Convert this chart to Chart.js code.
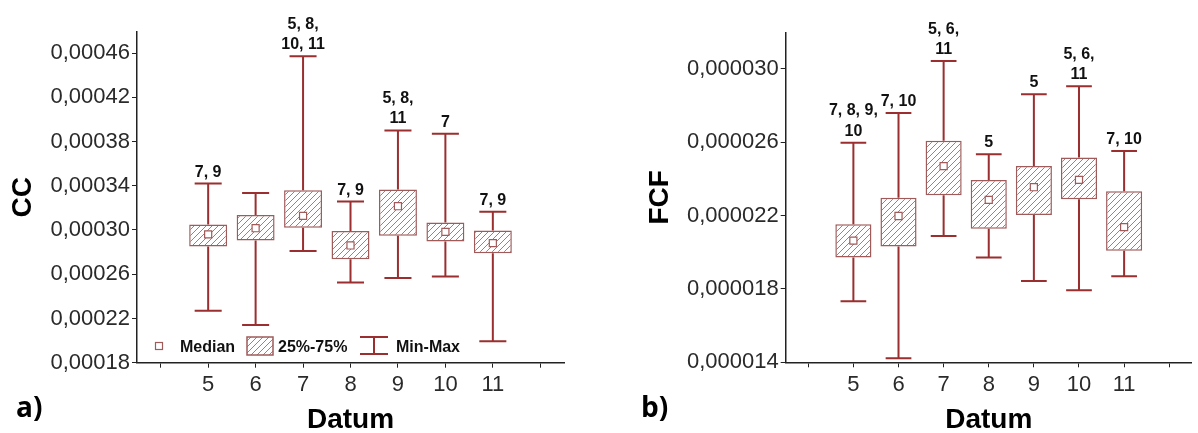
<!DOCTYPE html>
<html><head><meta charset="utf-8">
<script src="https://cdn.jsdelivr.net/npm/chart.js@4.4.1/dist/chart.umd.min.js"></script>
<style>
html,body{margin:0;padding:0;background:#fff;}
#wrap{position:relative;width:1198px;height:433px;overflow:hidden;background:#fff}
#c1{position:absolute;left:0;top:0}
#c2{position:absolute;left:600px;top:0}
</style></head><body>
<div id="wrap"><canvas id="c1" width="600" height="433"></canvas><canvas id="c2" width="598" height="433"></canvas></div>
<script>
// ---------- DATA ----------
const categories = ['5','6','7','8','9','10','11'];
const xTicks = [4,5,6,7,8,9,10,11,12];

// a) CC
const ccMin    = [0.000227, 0.000214, 0.000281, 0.0002525, 0.0002565, 0.000258, 0.0001995];
const ccQ1     = [0.000285, 0.0002905, 0.000302, 0.0002735, 0.0002947, 0.0002896, 0.000279];
const ccMedian = [0.000296, 0.0003016, 0.0003127, 0.000286, 0.0003215, 0.0002983, 0.0002881];
const ccQ3     = [0.000305, 0.0003136, 0.000336, 0.000299, 0.0003366, 0.0003068, 0.0002995];
const ccMax    = [0.000342, 0.0003335, 0.000457, 0.0003257, 0.00039, 0.000387, 0.0003164];
const ccSig    = [['7, 9'], [], ['5, 8,', '10, 11'], ['7, 9'], ['5, 8,', '11'], ['7'], ['7, 9']];
const ccTicks  = [0.00018, 0.00022, 0.00026, 0.00030, 0.00034, 0.00038, 0.00042, 0.00046];

// b) FCF
const fcfMin    = [0.00001733, 0.00001422, 0.00002089, 0.00001971, 0.00001844, 0.00001793, 0.00001869];
const fcfQ1     = [0.00001971, 0.00002031, 0.00002311, 0.00002129, 0.00002204, 0.0000229, 0.00002009];
const fcfMedian = [0.00002064, 0.00002198, 0.0000247, 0.00002286, 0.00002355, 0.00002395, 0.00002137];
const fcfQ3     = [0.00002153, 0.00002298, 0.00002608, 0.00002395, 0.00002471, 0.00002517, 0.00002333];
const fcfMax    = [0.00002597, 0.0000276, 0.00003043, 0.00002535, 0.00002862, 0.00002906, 0.00002553];
const fcfSig    = [['7, 8, 9,', '10'], ['7, 10'], ['5, 6,', '11'], ['5'], ['5'], ['5, 6,', '11'], ['7, 10']];
const fcfTicks  = [0.000014, 0.000018, 0.000022, 0.000026, 0.000030];

// ---------- STYLE ----------
const WHISKER = '#9b2f2f';
const BOXLINE = '#a05a5a';
const HATCH = '#b07878';
const TEXT = '#2a2a2a';
const FONT = '"Liberation Sans", Arial, sans-serif';

function hatchPattern(ctx) {
  const t = document.createElement('canvas');
  t.width = 6; t.height = 6;
  const c = t.getContext('2d');
  c.fillStyle = '#fff'; c.fillRect(0, 0, 6, 6);
  c.strokeStyle = HATCH; c.lineWidth = 1;
  c.beginPath();
  c.moveTo(0, 6); c.lineTo(6, 0);
  c.moveTo(-3, 3); c.lineTo(3, -3);
  c.moveTo(3, 9); c.lineTo(9, 3);
  c.stroke();
  return ctx.createPattern(t, 'repeat');
}

function makeChart(canvas, o) {
  const ctx = canvas.getContext('2d');
  const pattern = hatchPattern(ctx);
  const xs = categories.map(Number);

  const boxPlugin = {
    id: 'box' + o.id,
    afterDatasetsDraw(chart) {
      const c = chart.ctx, xS = chart.scales.x, yS = chart.scales.y;
      const unit = xS.getPixelForValue(1) - xS.getPixelForValue(0);
      const half = unit * 0.285;
      c.save();
      c.strokeStyle = WHISKER; c.lineWidth = 2;
      xs.forEach((xv, i) => {
        const x = xS.getPixelForValue(xv);
        const yMin = yS.getPixelForValue(o.min[i]), yMax = yS.getPixelForValue(o.max[i]);
        const yQ1 = yS.getPixelForValue(o.q1[i]), yQ3 = yS.getPixelForValue(o.q3[i]);
        c.beginPath();
        c.moveTo(x, yQ3); c.lineTo(x, yMax);
        c.moveTo(x, yQ1); c.lineTo(x, yMin);
        c.moveTo(x - half, yMax); c.lineTo(x + half, yMax);
        c.moveTo(x - half, yMin); c.lineTo(x + half, yMin);
        c.stroke();
      });
      c.fillStyle = '#111';
      c.font = 'bold 16px ' + FONT;
      c.textAlign = 'center'; c.textBaseline = 'alphabetic';
      xs.forEach((xv, i) => {
        const x = xS.getPixelForValue(xv);
        const yMax = yS.getPixelForValue(o.max[i]);
        const lines = o.sig[i];
        for (let k = lines.length - 1, j = 0; k >= 0; k--, j++) {
          c.fillText(lines[k], x, yMax - 7 - j * 20.5);
        }
      });
      c.restore();
    },
    afterDraw(chart) {
      const c = chart.ctx;
      c.save();
      c.fillStyle = '#000';
      c.font = 'bold 28px "Open Sans", sans-serif';
      c.textAlign = 'left'; c.textBaseline = 'alphabetic';
      c.fillText(o.panel, o.panelX, 417);
      if (o.legend) {
        const ly = 351.5;
        c.fillStyle = '#fff'; c.strokeStyle = BOXLINE; c.lineWidth = 1.2;
        c.fillRect(155.5, 342.5, 7, 7); c.strokeRect(155.5, 342.5, 7, 7);
        c.fillStyle = '#111'; c.font = 'bold 16px ' + FONT;
        c.fillText('Median', 180, ly);
        c.fillStyle = pattern; c.fillRect(247, 337, 26, 18);
        c.strokeStyle = BOXLINE; c.lineWidth = 1.5; c.strokeRect(247, 337, 26, 18);
        c.fillStyle = '#111';
        c.fillText('25%-75%', 278, ly);
        c.strokeStyle = WHISKER; c.lineWidth = 2;
        c.beginPath();
        c.moveTo(374, 337); c.lineTo(374, 354);
        c.moveTo(360, 337); c.lineTo(388, 337);
        c.moveTo(360, 354); c.lineTo(388, 354);
        c.stroke();
        c.fillText('Min-Max', 396, ly);
      }
      c.restore();
    }
  };

  return new Chart(canvas, {
    type: 'bar',
    data: {
      datasets: [
        {
          type: 'scatter',
          label: 'Median',
          data: xs.map((x, i) => ({ x, y: o.median[i] })),
          pointStyle: 'rect', pointRadius: 5, pointHoverRadius: 5,
          backgroundColor: '#fff', borderColor: BOXLINE, borderWidth: 1.2,
          order: 0
        },
        {
          type: 'bar',
          label: '25%-75%',
          data: xs.map((x, i) => ({ x, y: [o.q1[i], o.q3[i]] })),
          backgroundColor: pattern, borderColor: BOXLINE, borderWidth: 1.5,
          borderSkipped: false,
          categoryPercentage: 1, barPercentage: 0.8,
          order: 1
        }
      ]
    },
    options: {
      responsive: false, animation: false, devicePixelRatio: 1,
      layout: { padding: { left: 0, top: o.top, right: o.right, bottom: 0 } },
      plugins: { legend: { display: false }, tooltip: { enabled: false } },
      scales: {
        x: {
          type: 'linear', min: 3.5, max: 12.5, offset: false,
          afterBuildTicks: s => { s.ticks = xTicks.map(v => ({ value: v })); },
          afterFit: s => { s.height = o.xH; },
          ticks: {
            autoSkip: false, maxRotation: 0, padding: 4, color: TEXT,
            font: { family: FONT, size: 22 },
            callback: v => categories.includes(String(v)) ? String(v) : ''
          },
          grid: { display: true, offset: false, drawOnChartArea: false, drawTicks: true, tickLength: 5, color: '#222', lineWidth: 1 },
          border: { display: true, color: '#222', width: 1.5 },
          title: { display: true, text: 'Datum', color: '#000', font: { family: FONT, size: 28, weight: 'bold', lineHeight: 0.93 }, padding: 0 }
        },
        y: {
          type: 'linear', min: o.yMin, max: o.yMax,
          afterBuildTicks: s => { s.ticks = o.ticks.map(v => ({ value: v })); },
          afterFit: s => { s.width = o.yW; },
          ticks: {
            padding: 2, color: TEXT, font: { family: FONT, size: 22 },
            callback: v => v.toFixed(o.dec).replace('.', ',')
          },
          grid: { display: true, drawOnChartArea: false, drawTicks: true, tickLength: 5, color: '#222', lineWidth: 1 },
          border: { display: true, color: '#222', width: 1.5 },
          title: { display: true, text: o.title, color: '#000', font: { family: FONT, size: 28, weight: 'bold', lineHeight: 1.2 }, padding: { top: o.titlePad, bottom: 0 } }
        }
      }
    },
    plugins: [boxPlugin]
  });
}

makeChart(document.getElementById('c1'), {
  id: 'a', min: ccMin, q1: ccQ1, median: ccMedian, q3: ccQ3, max: ccMax, sig: ccSig,
  ticks: ccTicks, yMin: 0.00018, yMax: 0.000479, dec: 5, title: 'CC', titlePad: 6,
  top: 32, right: 36, yW: 137, xH: 70.3, panel: 'a)', panelX: 16, legend: true
});
makeChart(document.getElementById('c2'), {
  id: 'b', min: fcfMin, q1: fcfQ1, median: fcfMedian, q3: fcfQ3, max: fcfMax, sig: fcfSig,
  ticks: fcfTicks, yMin: 0.000014, yMax: 0.000032, dec: 6, title: 'FCF', titlePad: 43,
  top: 32.3, right: 0, yW: 185.7, xH: 70.7, panel: 'b)', panelX: 41, legend: false
});
</script>
</body></html>
